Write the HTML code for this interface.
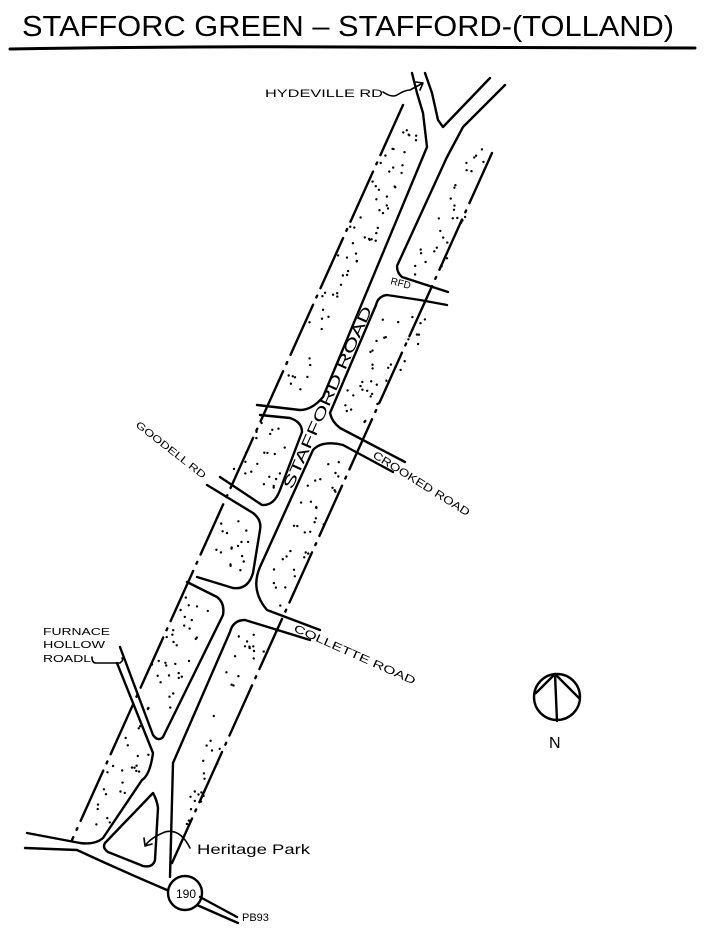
<!DOCTYPE html>
<html><head><meta charset="utf-8"><style>
html,body{margin:0;padding:0;background:#fff;}
svg{display:block;}
text{font-family:"Liberation Sans",sans-serif;fill:#000;}
</style></head><body>
<svg id="s" width="712" height="942" viewBox="0 0 712 942" xmlns="http://www.w3.org/2000/svg">
<g fill="none" stroke="#000" stroke-width="2.4" stroke-linecap="round" stroke-linejoin="round">
<!-- title -->
<text x="22" y="36" font-size="29" textLength="652" lengthAdjust="spacingAndGlyphs" stroke="none">STAFFORC GREEN – STAFFORD-(TOLLAND)</text>
<path d="M10 49 Q200 46 350 47 T695 48" stroke-width="3"/>

<!-- dash-dot boundaries -->
<path d="M403 105 L72 840" stroke-dasharray="55 8 2 8"/>
<path d="M492 153 L172 863" stroke-dasharray="55 8 2 8"/>

<!-- Stafford Road left edge, top -->
<path d="M412 73 L417 93 L423 113 L427 147 L323 397 Q312 410 300 410 L257 405"/>
<!-- Stafford Road right edge & NE road -->
<path d="M425 73 L432 93 L438 120 L443 127 L490 78"/>
<path d="M505 85 L463 127 L447 157 L397 266 Q397 273 402 277 L448 292"/>
<!-- RFD bottom / road right edge -->
<path d="M447 305 L420 300 L387 295 Q378 296 376 305 L330 413 Q332 422 340 428 L405 462"/>
<!-- crooked bottom / road right edge -->
<path d="M393 472 L343 445 Q322 440 313 450 L260 567 Q250 590 267 610 L320 630"/>
<!-- cross road bottom / block B -->
<path d="M260 415 L290 418 Q302 422 302 432 L280 490 Q274 506 262 505 L220 477"/>
<!-- Goodell bottom / block C -->
<path d="M207 485 L253 513 Q262 520 260 530 L253 573 Q248 590 233 588 L197 577"/>
<!-- cross bottom / road left edge lower -->
<path d="M187 582 L217 597 Q225 603 223 615 L163 737 Q158 742 153 735 L120 647"/>
<!-- Collette bottom / road right edge lower -->
<path d="M310 640 L245 620 Q233 620 230 632 L173 763 L170 877"/>
<!-- furnace hollow left line / road left edge bottom -->
<path d="M117 663 L153 753 Q150 775 142 780 L103 838 Q95 845 80 843 L27 833"/>
<!-- triangle -->
<path d="M153 793 Q157 800 158 808 L155 860 Q153 868 143 866 L108 852 Q102 848 105 843 Z"/>
<!-- Route 190 -->
<path d="M25 848 L77 850 Q120 870 167 890"/>
<circle cx="185" cy="893" r="17"/>
<path d="M200 897 L237 917 M197 905 L238 923"/>

<!-- leaders -->
<path d="M383 92 Q392 98 397 95 Q405 90 410 90 L423 83 M416 82 L423 83 L420 90" stroke-width="1.6"/>
<path d="M92 657 Q92 663 96 663 L120 663 Q124 660 122 658" stroke-width="1.6"/>
<path d="M190 848 Q180 828 165 832 Q150 838 145 846 M145 846 L144 838 M145 846 L152 844" stroke-width="1.6"/>

<!-- north arrow -->
<circle cx="557" cy="697" r="23"/>
<path d="M555 674 L557 721 M555 674 L536 693 M555 674 L579 698"/>
</g>

<g font-size="11">
<text x="265" y="97" textLength="118" lengthAdjust="spacingAndGlyphs">HYDEVILLE RD</text>
<text transform="translate(390,284) rotate(14)" font-size="10">RFD</text>
<text transform="translate(292,490) rotate(-66)" font-size="15" textLength="198" lengthAdjust="spacingAndGlyphs">STAFFORD ROAD</text>
<text transform="translate(372,457) rotate(32)" textLength="112" lengthAdjust="spacingAndGlyphs">CROOKED ROAD</text>
<text transform="translate(135,426) rotate(38)" font-size="10" textLength="86" lengthAdjust="spacingAndGlyphs">GOODELL RD</text>
<text transform="translate(293,631) rotate(24)" textLength="132" lengthAdjust="spacingAndGlyphs">COLLETTE ROAD</text>
<text x="43" y="635" font-size="10" textLength="67" lengthAdjust="spacingAndGlyphs">FURNACE</text>
<text x="43" y="648" font-size="10" textLength="62" lengthAdjust="spacingAndGlyphs">HOLLOW</text>
<text x="43" y="662" font-size="10" textLength="48" lengthAdjust="spacingAndGlyphs">ROADL</text>
<text x="197" y="854" font-size="14" textLength="113" lengthAdjust="spacingAndGlyphs">Heritage Park</text>
<text x="176" y="898" font-size="12">190</text>
<text x="242" y="921" font-size="11">PB93</text>
<text x="549" y="748" font-size="16">N</text>
</g>
<g id="dots" fill="#000"></g>
</svg>
<script>
(function(){
var polys=[
[[398,120],[423,135],[307,398],[272,398]],
[[260,422],[296,427],[274,498],[226,482]],
[[228,500],[254,522],[246,575],[202,570]],
[[184,593],[218,605],[162,728],[153,726],[137,690]],
[[134,702],[150,755],[108,828],[82,830]],
[[484,128],[493,152],[440,280],[402,273]],
[[392,300],[440,308],[372,425],[337,412]],
[[322,452],[352,462],[284,612],[260,596]],
[[238,630],[272,640],[182,848],[175,848]]
];
var seed=7;function r(){seed=(seed*16807)%2147483647;return seed/2147483647;}
function inside(p,x,y){var c=false;for(var i=0,j=p.length-1;i<p.length;j=i++){var a=p[i],b=p[j];if(((a[1]>y)!=(b[1]>y))&&(x<(b[0]-a[0])*(y-a[1])/(b[1]-a[1])+a[0]))c=!c;}return c;}
var g=document.getElementById('dots'),ns='http://www.w3.org/2000/svg';
polys.forEach(function(p){var xs=p.map(function(q){return q[0]}),ys=p.map(function(q){return q[1]});
var x0=Math.min.apply(0,xs),x1=Math.max.apply(0,xs),y0=Math.min.apply(0,ys),y1=Math.max.apply(0,ys);
var area=0;for(var i=0,j=p.length-1;i<p.length;j=i++){area+=(p[j][0]+p[i][0])*(p[j][1]-p[i][1]);}area=Math.abs(area/2);
var n=Math.round(area/140),k=0,t=0;
while(k<n&&t<5000){t++;var x=x0+r()*(x1-x0),y=y0+r()*(y1-y0);if(inside(p,x,y)){var c=document.createElementNS(ns,'circle');c.setAttribute('cx',x.toFixed(1));c.setAttribute('cy',y.toFixed(1));c.setAttribute('r','1.2');g.appendChild(c);k++;}}
});
})();
</script>
</body></html>
